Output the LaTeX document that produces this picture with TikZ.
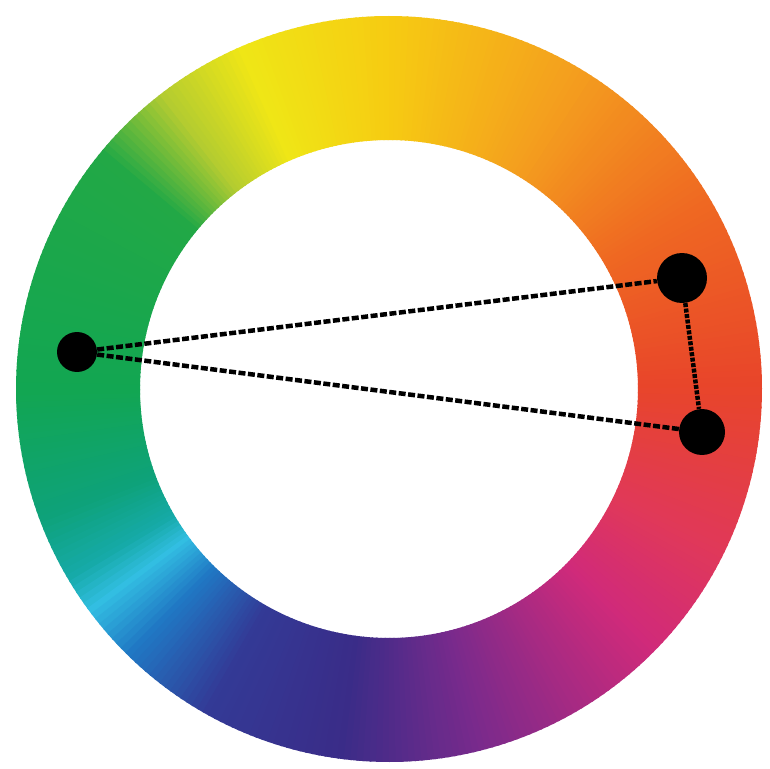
\documentclass[tikz,border=0pt]{standalone}
\usepackage{xcolor}
\usepackage{tikz}
\usetikzlibrary{positioning}

\definecolor{h000}{HTML}{E8452A}
\definecolor{h030}{HTML}{EF6822}
\definecolor{h060}{HTML}{F4A01E}
\definecolor{h090}{HTML}{F6CC12}
\definecolor{h113}{HTML}{EFE616}
\definecolor{h127}{HTML}{B4CC30}
\definecolor{h140}{HTML}{22A846}
\definecolor{h180}{HTML}{12A652}
\definecolor{h200}{HTML}{0EA27A}
\definecolor{h210}{HTML}{16AAA8}
\definecolor{h216}{HTML}{32BEE2}
\definecolor{h225}{HTML}{2078C4}
\definecolor{h240}{HTML}{333A96}
\definecolor{h262}{HTML}{3A2C88}
\definecolor{h284}{HTML}{7A2A8C}
\definecolor{h315}{HTML}{D02A7A}
\definecolor{h333}{HTML}{E0385A}
\definecolor{h360}{HTML}{E8452A}

\begin{document}
\begin{tikzpicture}[x=0.02cm, y=0.02cm,
  dot/.style={circle, fill=black, inner sep=0pt},
  link/.style={line width=0.09cm, black, dash pattern=on 0.14cm off 0.05cm}]

\useasboundingbox (0,0) rectangle (770,768);
\fill[white] (0,0) rectangle (770,768);

% colour ring
\begin{scope}[shift={(389,379)}]
\foreach \sa/\sb/\ca/\cb in {0/30/h000/h030, 30/60/h030/h060, 60/90/h060/h090,
    90/113/h090/h113, 113/127/h113/h127, 127/140/h127/h140, 140/180/h140/h180,
    180/200/h180/h200, 200/210/h200/h210, 210/216/h210/h216, 216/225/h216/h225,
    225/240/h225/h240, 240/262/h240/h262, 262/284/h262/h284, 284/315/h284/h315,
    315/333/h315/h333, 333/360/h333/h360} {
  \pgfmathtruncatemacro{\n}{\sb-\sa-1}
  \foreach \k in {0,...,\n} {
    \pgfmathsetmacro{\p}{100*\k/(\sb-\sa)}
    \pgfmathsetmacro{\a}{\sa+\k}
    \fill[\cb!\p!\ca] (\a:373) -- ({\a+1.3}:373) -- ({\a+1.3}:249) -- (\a:249) -- cycle;
  }
}
\end{scope}

% dots
\node[dot, minimum size=0.8cm] (green) at (77,416) {};
\node[dot, minimum size=1cm] (redtop) at (682,490) {};
\node[dot, minimum size=0.92cm] (redlow) at (702,336) {};

% links
\draw[link] (green) -- (redtop);
\draw[link] (green) -- (redlow);
\draw[link, dash pattern=on 0.08cm off 0.03cm] (redtop) -- (redlow);

\end{tikzpicture}
\end{document}
